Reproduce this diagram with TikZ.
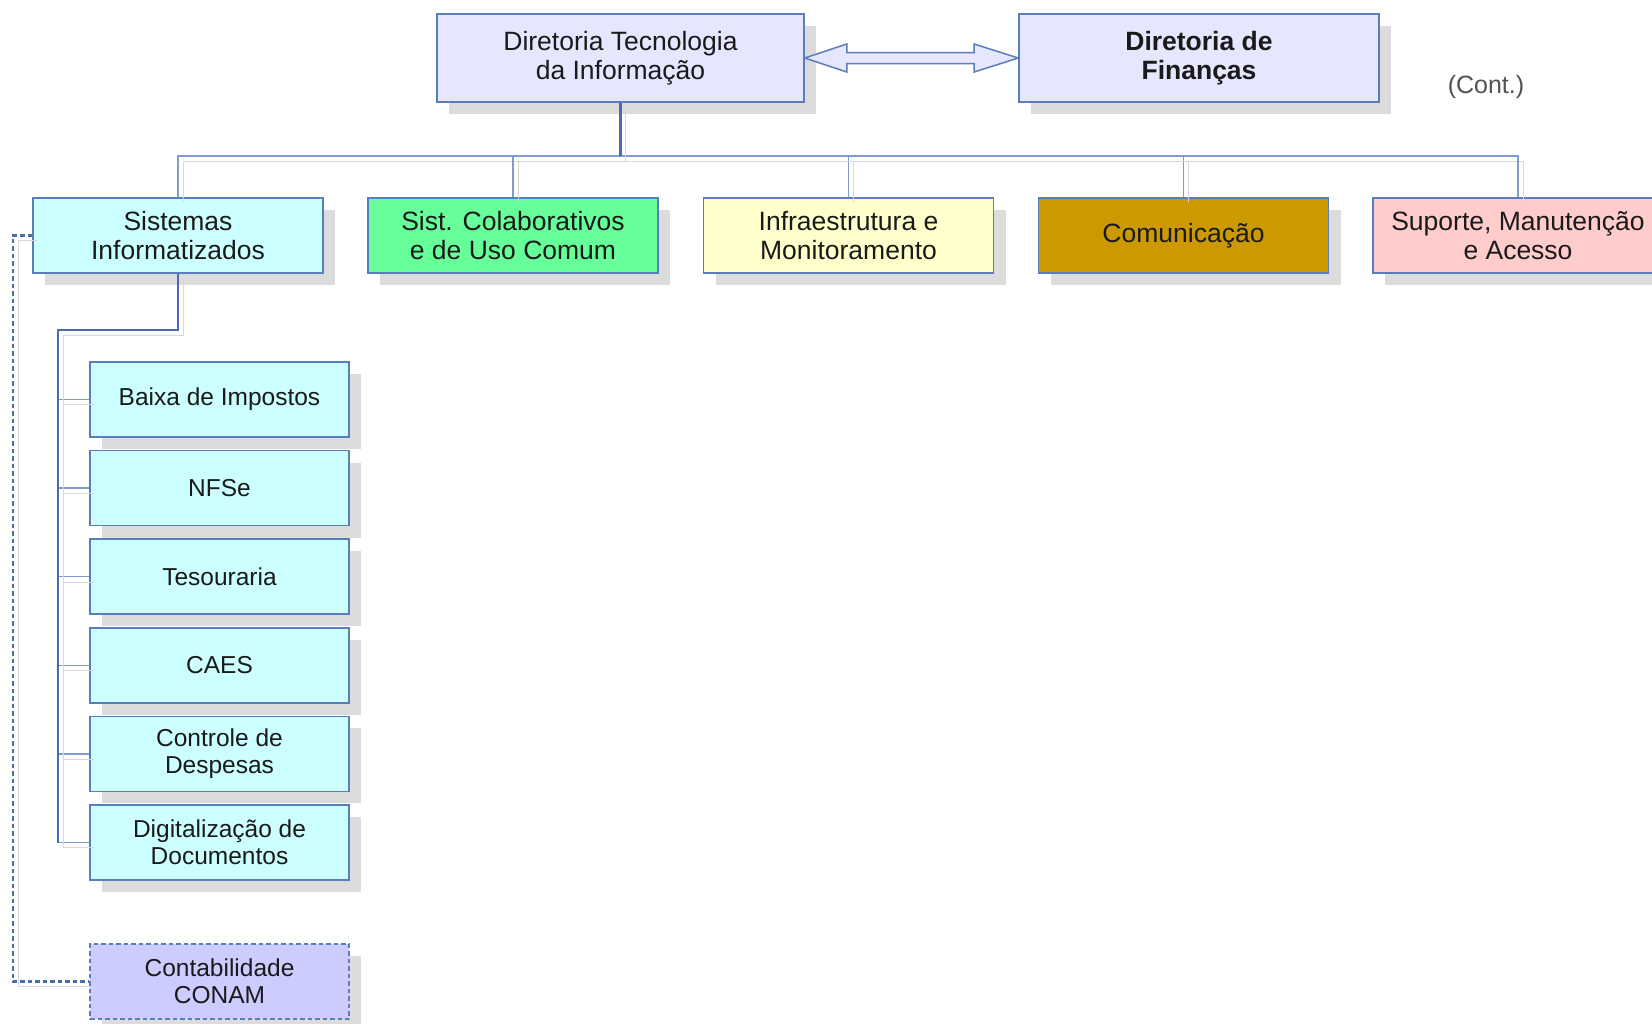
\documentclass[tikz,border=0pt]{standalone}
\usepackage{fontspec}
\setmainfont{Liberation Sans}
\usetikzlibrary{shadows,calc}
\definecolor{bord}{HTML}{5A7DBE}
\definecolor{connc}{HTML}{4A6BAE}
\definecolor{connl}{HTML}{7F9BD0}
\definecolor{shad}{HTML}{DCDCDC}
\definecolor{cshad}{HTML}{D8D8D8}
\definecolor{txt}{HTML}{1A1A1A}
\definecolor{lav}{HTML}{E6E6FF}
\definecolor{cyanl}{HTML}{CCFFFF}
\definecolor{greenl}{HTML}{66FF99}
\definecolor{yell}{HTML}{FFFFCC}
\definecolor{gold}{HTML}{CC9900}
\definecolor{pinkl}{HTML}{FFCCCC}
\definecolor{lilac}{HTML}{CCCCFF}
\begin{document}
\begin{tikzpicture}[x=1pt,y=-1pt,
  box/.style={draw=bord, line width=1.6pt, align=center, inner sep=0pt,
    minimum width=290pt, minimum height=75pt, text=txt,
    font=\fontsize{26.5}{29.5}\selectfont,
    drop shadow={shadow xshift=12pt, shadow yshift=-12pt, fill=shad, opacity=1}},
  topbox/.style={box, fill=lav, minimum height=88pt},
  subbox/.style={box, minimum width=259pt, fill=cyanl,
    font=\fontsize{24.5}{27.4}\selectfont},
  cshadow/.style={preaction={draw=cshad, transform canvas={xshift=5pt, yshift=-5pt}}},
  connthin/.style={draw=connl, line width=1.5pt, cshadow},
  connthick/.style={draw=connc, line width=2.4pt, cshadow},
  conndash/.style={draw=connc, line width=2.3pt, dash pattern=on 4.5pt off 3pt, cshadow},
]
\useasboundingbox (0,0) rectangle (1652,1023);
\fill[white] (0,0) rectangle (1652,1023);

% top boxes
\node[topbox, minimum width=367pt] (dti) at (620.5,58) {Diretoria Tecnologia\\da Informação};
\node[topbox, minimum width=360pt, font=\fontsize{26.5}{29.5}\selectfont\bfseries] (df) at (1199,58) {Diretoria de\\Finanças};
\node[font=\fontsize{25}{28}\selectfont, text=black!68] (cont) at (1486,87) {(Cont.)};

% double arrow between top boxes
\draw[draw=bord, line width=1.5pt, fill=lav, line join=miter]
  (dti.east) -- ($(dti.east)+(42,-14)$) -- ($(dti.east)+(42,-5.5)$)
  -- ($(df.west)+(-44,-5.5)$) -- ($(df.west)+(-44,-14)$) -- (df.west)
  -- ($(df.west)+(-44,14)$) -- ($(df.west)+(-44,5.5)$)
  -- ($(dti.east)+(42,5.5)$) -- ($(dti.east)+(42,14)$) -- cycle;

% second level
\node[box, fill=cyanl] (sis) at (178,235.5) {Sistemas\\Informatizados};
\node[box, fill=greenl] (col) at (513,235.5) {Sist. Colaborativos\\e de Uso Comum};
\node[box, fill=yell] (inf) at (848.5,235.5) {Infraestrutura e\\Monitoramento};
\node[box, fill=gold] (com) at (1183.5,235.5) {Comunicação};
\node[box, fill=pinkl] (sup) at (1518,235.5) {Suporte, Manutenção\\e Acesso};

% sub boxes
\node[subbox] (b1) at (219.5,399.5) {Baixa de Impostos};
\node[subbox] (b2) at (219.5,488.1) {NFSe};
\node[subbox] (b3) at (219.5,576.7) {Tesouraria};
\node[subbox] (b4) at (219.5,665.3) {CAES};
\node[subbox] (b5) at (219.5,753.9) {Controle de\\Despesas};
\node[subbox] (b6) at (219.5,842.5) {Digitalização de\\Documentos};
\node[subbox, fill=lilac, line width=2pt, dash pattern=on 4.5pt off 3pt] (conam) at (219.5,981.5) {Contabilidade\\CONAM};

% connectors top
\coordinate (bus) at (620.5,156);
\draw[connthin] (bus) -| (sis.north);
\draw[connthin] (bus) -| (col.north);
\draw[connthin] (bus) -| (inf.north);
\draw[connthin] (bus) -| (com.north);
\draw[connthin] (bus) -| (sup.north);
\draw[connthick] (dti.south) -- (bus);

% subtree
\coordinate (sbend) at (58,330);
\foreach \b in {b1,b2,b3,b4,b5,b6}{
  \draw[connthin] (sbend |- \b.west) -- (\b.west);
}
\draw[connthick] (sis.south) |- (sbend) -- (sbend |- b6.west);

% dashed link
\coordinate (dl) at (13,0);
\draw[conndash] (sis.west) -- (sis.west -| dl) |- (conam.west);
\end{tikzpicture}
\end{document}
